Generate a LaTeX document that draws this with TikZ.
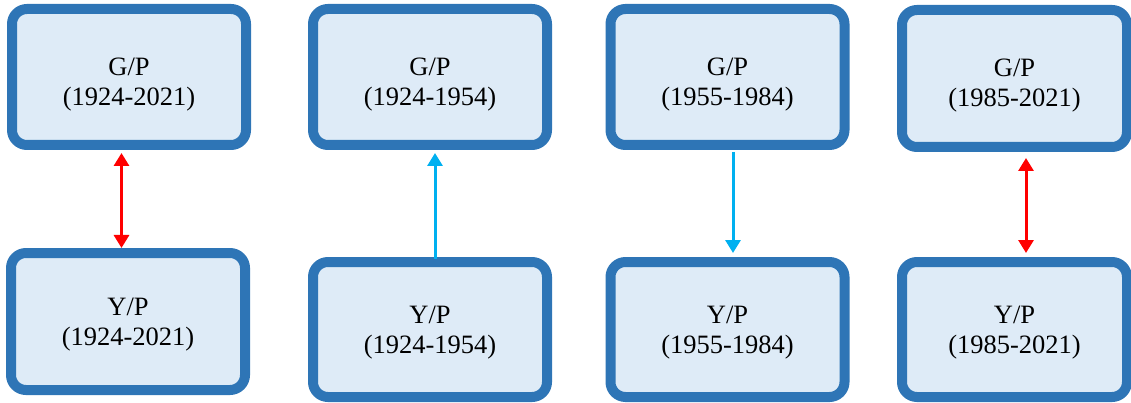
\documentclass[tikz,border=0pt]{standalone}
\usepackage{fontspec}
\setmainfont{Liberation Serif}
\usetikzlibrary{arrows.meta}
\definecolor{boxblue}{HTML}{2E75B6}
\definecolor{boxfill}{HTML}{DEEBF7}
\definecolor{arrred}{HTML}{FF0000}
\definecolor{arrcyan}{HTML}{00B0F0}
\tikzset{
  pbox/.style={draw=boxblue, fill=boxfill, line width=10pt, rounded corners=15pt,
    minimum width=234pt, align=center, inner sep=0pt,
    font=\fontsize{26.5}{30}\selectfont},
  redarr/.style={draw=arrred, line width=3pt, {Triangle[width=15pt,length=13pt]}-{Triangle[width=15pt,length=13pt]}},
  cyanarr/.style={draw=arrcyan, line width=3pt, -{Triangle[width=15pt,length=13pt]}}
}
\newcommand{\topstrut}{\rule{0pt}{32pt}}
\newcommand{\botstrut}{\rule{0pt}{24pt}}
\begin{document}
\begin{tikzpicture}[x=1pt,y=-1pt]
\useasboundingbox (0,0) rectangle (1131,403);
% top row
\node[pbox, minimum height=136pt] (g1) at (129,77) {\topstrut G/P\\(1924-2021)};
\node[pbox, minimum height=136pt] (g2) at (430,77) {\topstrut G/P\\(1924-1954)};
\node[pbox, minimum height=136pt] (g3) at (727.5,77) {\topstrut G/P\\(1955-1984)};
\node[pbox, minimum height=137pt, minimum width=225pt] (g4) at (1014.5,78.5) {\topstrut G/P\\(1985-2021)};
% bottom row
\node[pbox, minimum height=137pt] (y1) at (128,321.5) {\botstrut Y/P\\(1924-2021)};
\node[pbox, minimum height=135pt] (y2) at (430,329.5) {\botstrut Y/P\\(1924-1954)};
\node[pbox, minimum height=135pt] (y3) at (727.5,329.5) {\botstrut Y/P\\(1955-1984)};
\node[pbox, minimum height=135pt, minimum width=225pt] (y4) at (1014.5,329.5) {\botstrut Y/P\\(1985-2021)};
% arrow positions
\coordinate (a1) at (121.5,0);
\coordinate (a2) at (435,0);
\coordinate (a3) at (733,0);
\coordinate (a4) at (1026,0);
\draw[redarr, shorten <=3pt] (g1.south -| a1) -- (y1.north -| a1);
\draw[cyanarr, shorten >=3pt, shorten <=-2pt] (y2.north -| a2) -- (g2.south -| a2);
\draw[cyanarr, shorten <=2pt, shorten >=4pt] (g3.south -| a3) -- (y3.north -| a3);
\draw[redarr, shorten <=6pt, shorten >=4pt] (g4.south -| a4) -- (y4.north -| a4);
\end{tikzpicture}
\end{document}
